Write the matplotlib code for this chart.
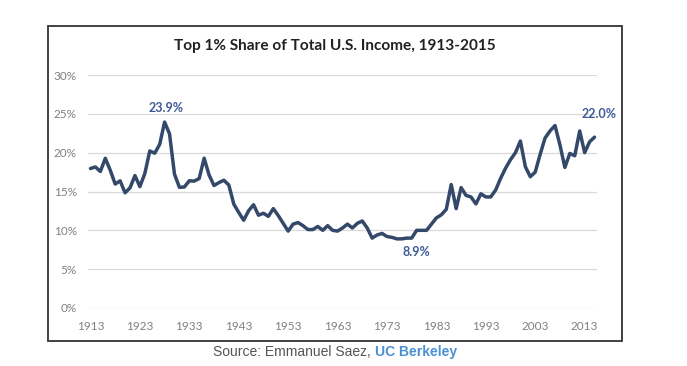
import matplotlib
matplotlib.use("Agg")
import matplotlib.pyplot as plt
from matplotlib.patches import Rectangle

years = list(range(1913, 2016))
share = [17.96, 18.16, 17.58, 19.27, 17.74, 15.96, 16.37, 14.83, 15.47, 17.05,
         15.63, 17.32, 20.22, 19.93, 21.06, 23.94, 22.42, 17.23, 15.54, 15.58,
         16.38, 16.34, 16.67, 19.29, 17.12, 15.77, 16.15, 16.45, 15.83, 13.38,
         12.30, 11.30, 12.52, 13.30, 11.95, 12.20, 11.80, 12.80, 11.90, 10.90,
         9.90, 10.80, 11.00, 10.60, 10.10, 10.10, 10.50, 10.00, 10.60, 10.00,
         9.90, 10.30, 10.80, 10.30, 10.90, 11.20, 10.30, 9.00, 9.40, 9.60,
         9.20, 9.10, 8.90, 8.90, 9.00, 9.00, 10.00, 10.00, 10.00, 10.80,
         11.60, 12.00, 12.70, 15.90, 12.80, 15.50, 14.50, 14.30, 13.40, 14.70,
         14.30, 14.30, 15.20, 16.70, 18.00, 19.10, 20.00, 21.50, 18.20, 16.90,
         17.50, 19.80, 21.90, 22.80, 23.50, 21.00, 18.10, 19.90, 19.60, 22.80,
         20.00, 21.40, 22.00]
xtick_years = [1913, 1923, 1933, 1943, 1953, 1963, 1973, 1983, 1993, 2003, 2013]
ytick_vals = [0, 5, 10, 15, 20, 25, 30]
title = "Top 1% Share of Total U.S. Income, 1913-2015"

W, H = 687, 366
fig = plt.figure(figsize=(W / 100, H / 100), dpi=100)
fig.patch.set_facecolor("white")

# outer frame
fig.patches.append(Rectangle((48 / W, 1 - 341 / H), (622 - 48) / W, (341 - 26) / H,
                             transform=fig.transFigure, fill=False,
                             edgecolor="#333333", linewidth=1.3))

ax = fig.add_axes([88 / W, 1 - 308 / H, (597 - 88) / W, (308 - 75) / H])
line_color = "#34486A"
ax.plot(years, share, color=line_color, linewidth=2.5, solid_joinstyle="round",
        solid_capstyle="round", zorder=3)
ax.set_xlim(1912.5, 2015.5)
ax.set_ylim(0, 30)
ax.set_yticks(ytick_vals)
ax.set_yticklabels([f"{v}%" for v in ytick_vals])
ax.set_xticks(xtick_years)
ax.set_xticklabels([str(y) for y in xtick_years])
ax.grid(axis="y", color="#D9D9D9", linewidth=0.9)
ax.set_axisbelow(True)
for s in ax.spines.values():
    s.set_visible(False)
ax.tick_params(length=0, labelsize=8.5, labelcolor="#808080", pad=8)
for lbl in ax.get_xticklabels() + ax.get_yticklabels():
    lbl.set_fontfamily("Lato")
ax.tick_params(axis="x", pad=9)

ann_color = "#3D5A96"
i_max = share.index(max(share[:50]))
ax.annotate(f"{share[i_max]:.1f}%", (years[i_max], share[i_max]), xytext=(1, 6),
            textcoords="offset points", ha="center", va="bottom",
            color=ann_color, fontsize=9, fontweight="bold", family="Lato")
i_min = share.index(min(share))
ax.annotate(f"{share[i_min]:.1f}%", (years[i_min], share[i_min]), xytext=(14, -5),
            textcoords="offset points", ha="center", va="top",
            color=ann_color, fontsize=9, fontweight="bold", family="Lato")
ax.annotate(f"{share[-1]:.1f}%", (years[-1], share[-1]), xytext=(3, 12),
            textcoords="offset points", ha="center", va="bottom",
            color=ann_color, fontsize=9, fontweight="bold", family="Lato",
            annotation_clip=False)

fig.text(335 / W, 1 - 46 / H, title, ha="center", va="center", fontsize=11.1,
         fontweight="bold", family="Lato", color="#222222")

src_y = 1 - 352 / H
t1 = fig.text(213 / W, src_y, "Source: Emmanuel Saez, ", ha="left", va="center",
              fontsize=10, family="Liberation Sans", color="#555555")
fig.canvas.draw()
bb = t1.get_window_extent()
fig.text(bb.x1 / W, src_y, "UC Berkeley", ha="left", va="center", fontsize=10,
         family="Liberation Sans", fontweight="bold", color="#4A90D2")

fig.savefig("out.png", dpi=100, facecolor="white")
